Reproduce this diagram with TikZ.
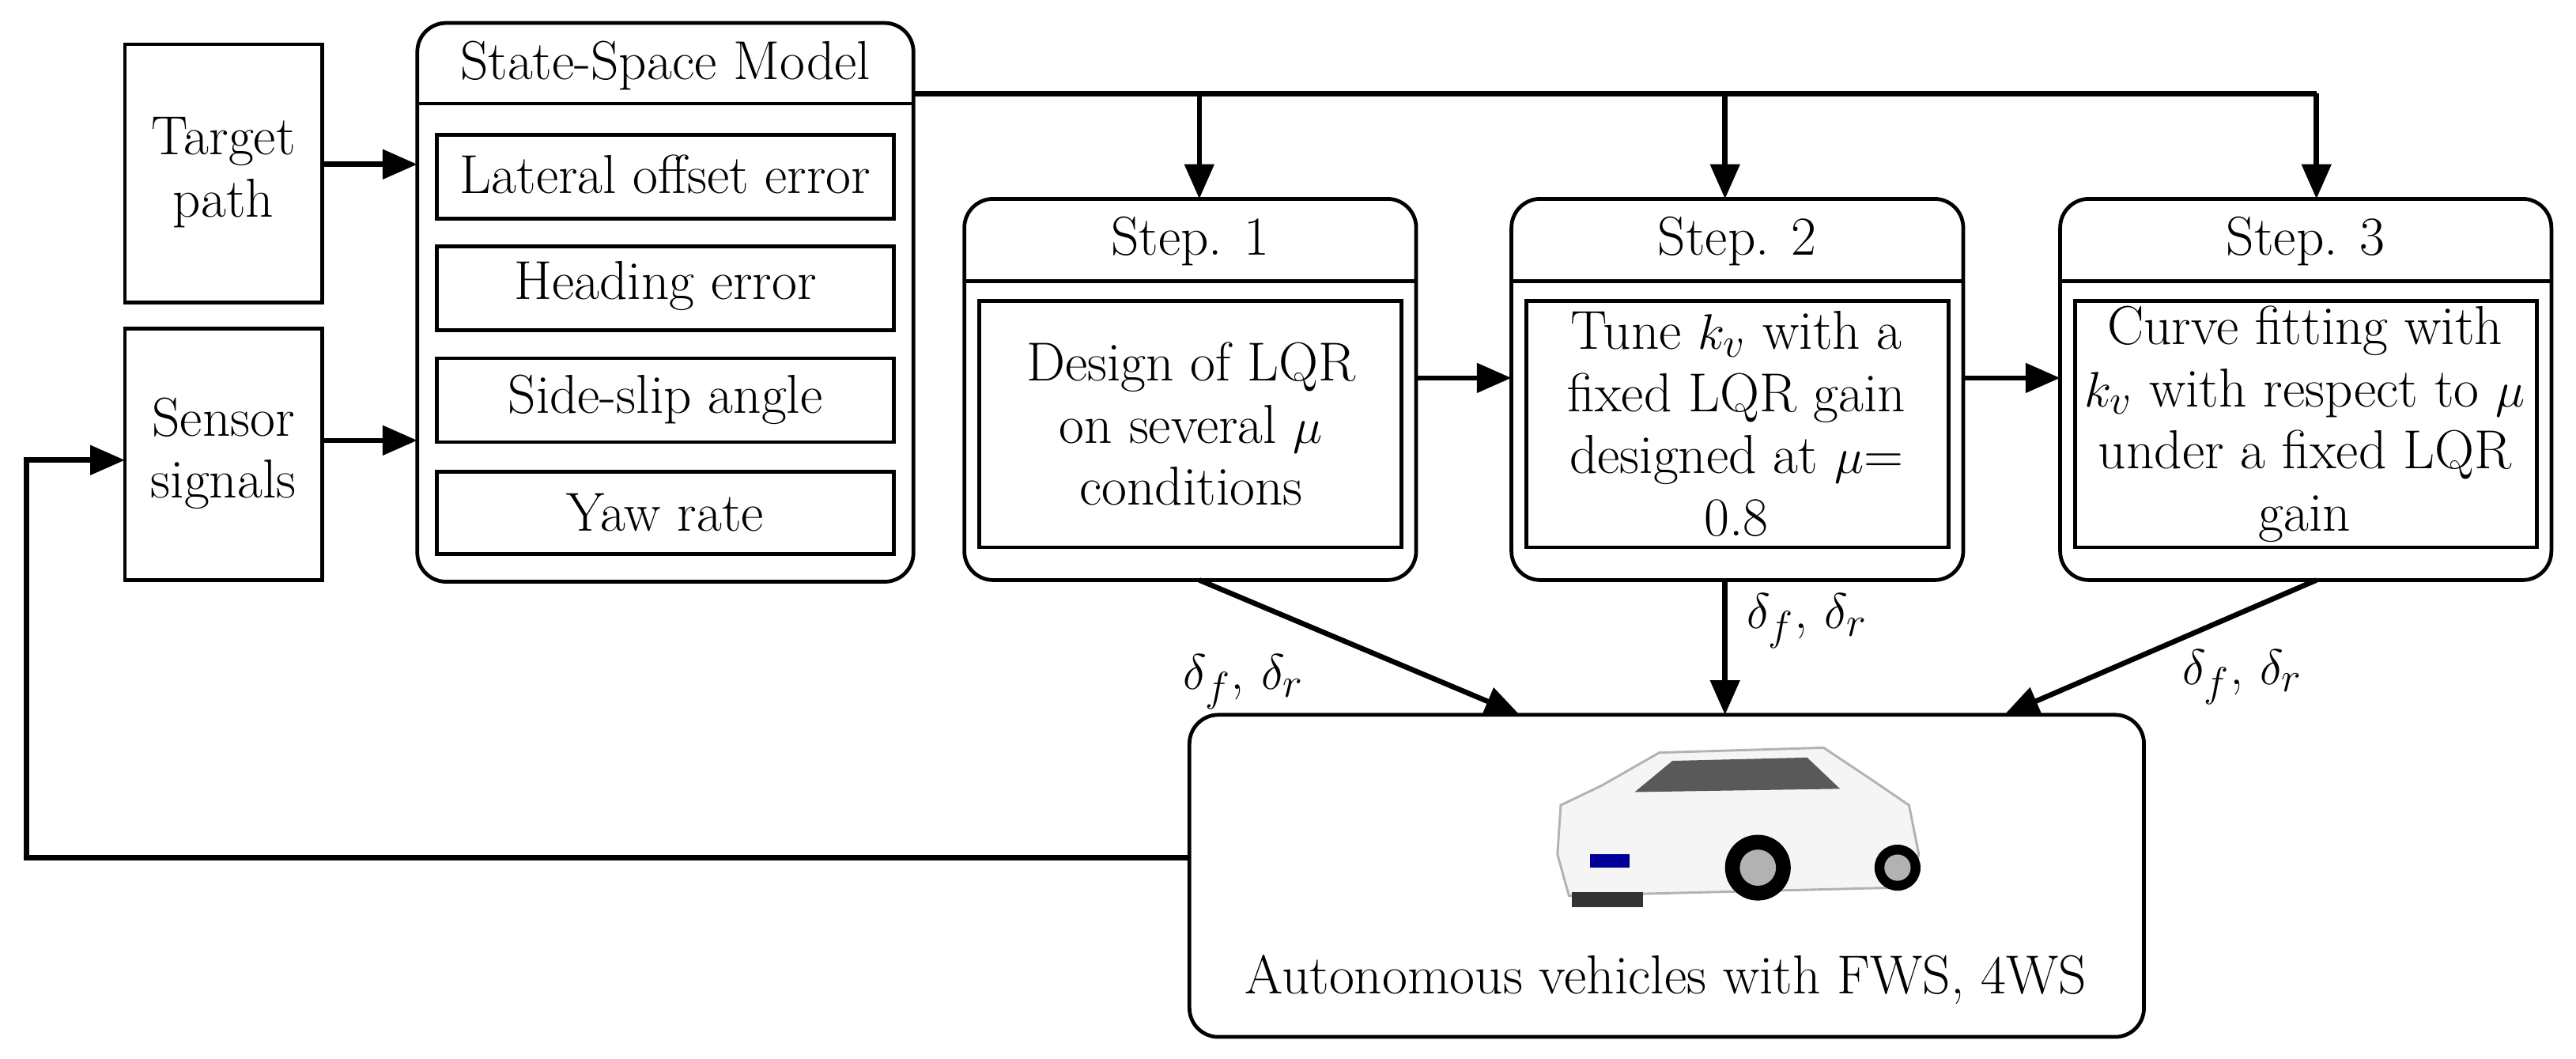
\documentclass[tikz,border=0pt]{standalone}
\usetikzlibrary{arrows.meta}
\begin{document}
\begin{tikzpicture}[x=0.02cm,y=-0.02cm,
  every node/.style={font=\fontsize{19}{21.5}\selectfont, align=center, inner sep=0pt},
  ln/.style={line width=1.8pt},
  arr/.style={ln,-{Triangle[length=12pt,width=10pt]}},
  box/.style={draw,line width=1.3pt},
  rbox/.style={draw,line width=1.3pt,rounded corners=10pt}]
\useasboundingbox (0,0) rectangle (1568,644);
% left boxes
\draw[box] (76,27) rectangle (196,184);
\node (tp) at (136,105) {Target\\path};
\draw[box] (76,200) rectangle (196,353);
\node (ss) at (136,276) {Sensor\\signals};
% SSM
\draw[rbox] (254,14) rectangle (556,354);
\draw[line width=1.3pt] (254,63) -- (556,63);
\node (ssm) at (405,40) {State-Space Model};
\draw[box] (266,82) rectangle (544,133); \node at (405,106) {Lateral offset error};
\draw[box] (266,150) rectangle (544,201); \node at (405,174) {Heading error};
\draw[box] (266,218) rectangle (544,269); \node at (405,243) {Side-slip angle};
\draw[box] (266,287) rectangle (544,337); \node at (405,312) {Yaw rate};
\coordinate (t1) at (196,100); \coordinate (t2) at (254,100);
\draw[arr] (t1) -- (t2);
\coordinate (s1) at (196,268); \coordinate (s2) at (254,268);
\draw[arr] (s1) -- (s2);
% top line
\coordinate (a0) at (556,57); \coordinate (a3) at (1410,57);
\draw[ln] (a0) -- (a3);
\coordinate (d1) at (730,57); \coordinate (d2) at (1050,57);
\draw[arr] (d1) -- (730,121);
\draw[arr] (d2) -- (1050,121);
\draw[arr] (a3) -- (1410,121);
% steps
\foreach \xa/\xb/\t in {587/862/1,920/1195/2,1254/1553/3}{
  \draw[rbox] (\xa,121) rectangle (\xb,353);
  \draw[line width=1.3pt] (\xa,171) -- (\xb,171);
  \node at ({(\xa+\xb)/2},147) {Step. \t};
  \draw[box] (\xa+9,183) rectangle (\xb-9,333);
}
\node (st1) at (725,258) {Design of LQR\\on several $\mu$\\conditions};
\node (st2) at (1057,258) {Tune $k_v$ with a\\fixed LQR gain\\designed at $\mu$=\\0.8};
\node (st3) at (1403,258) {Curve fitting with\\$k_v$ with respect to $\mu$\\under a fixed LQR\\gain};
\draw[arr] (862,230) -- (920,230);
\draw[arr] (1195,230) -- (1254,230);
% bottom box
\draw[rbox] (724,435) rectangle (1305,631);
\node (av) at (1014,596) {Autonomous vehicles with FWS, 4WS};
% car
\begin{scope}
\fill[gray!8,draw=gray!60,line width=0.8pt] (948,520) -- (950,490) -- (975,478) -- (1010,458) -- (1110,455) -- (1140,475) -- (1162,490) -- (1168,520) -- (1160,540) -- (955,545) -- cycle;
\fill[gray!70!black] (1018,463) -- (1100,461) -- (1120,480) -- (995,482) -- cycle;
\fill[black!80] (957,543) rectangle (1000,552);
\fill[black] (1070,528) circle (20); \fill[gray!60] (1070,528) circle (11);
\fill[black] (1155,528) circle (14); \fill[gray!60] (1155,528) circle (8);
\fill[blue!60!black] (968,520) rectangle (992,528);
\end{scope}
% arrows to vehicle
\draw[arr] (730,353) -- (925,435);
\draw[arr] (1050,353) -- (1050,435);
\draw[arr] (1410,353) -- (1220,435);
\node at (757,415) {$\delta_f$, $\delta_r$};
\node at (1100,378) {$\delta_f$, $\delta_r$};
\node at (1365,412) {$\delta_f$, $\delta_r$};
% feedback
\coordinate (f0) at (724,522);
\draw[arr] (f0) -- (16,522) -- (16,280) -- (76,280);
\end{tikzpicture}
\end{document}
